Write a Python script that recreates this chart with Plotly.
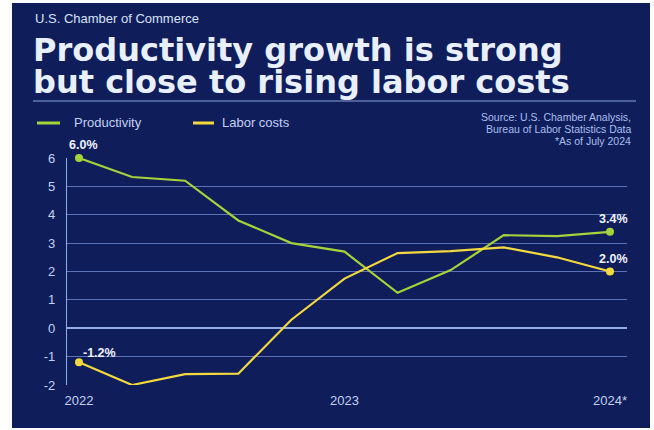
import plotly.graph_objects as go

# ---- data ----
periods = list(range(11))
productivity = [6.0, 5.33, 5.2, 3.8, 3.0, 2.7, 1.25, 2.05, 3.28, 3.25, 3.4]
labor_costs = [-1.2, -2.0, -1.62, -1.6, 0.3, 1.75, 2.65, 2.72, 2.85, 2.5, 2.0]
tick_pos = [0, 5, 10]
tick_labels = ["2022", "2023", "2024*"]
y_ticks = [-2, -1, 0, 1, 2, 3, 4, 5, 6]
y_tick_labels = ["-2", "-1", "0", "1", "2", "3", "4", "5", "6"]

W, H = 654, 430
L, R, T, B = 67, 627, 158, 385  # plot area in pixels

NAVY = "#0f1e5b"
GREEN = "#a6d23a"
YELLOW = "#f4d93e"
GRID = "#5b73b6"
LIGHT = "#c3d1f2"


def px(x):
    return (x - L) / (R - L)


def py(y):
    return (B - y) / (B - T)


fig = go.Figure()
fig.add_trace(go.Scatter(x=periods, y=productivity, mode="lines", name="Productivity",
                         line=dict(color=GREEN, width=2.2), cliponaxis=False))
fig.add_trace(go.Scatter(x=periods, y=labor_costs, mode="lines", name="Labor costs",
                         line=dict(color=YELLOW, width=2.2), cliponaxis=False))
# end markers
for series, col in ((productivity, GREEN), (labor_costs, YELLOW)):
    fig.add_trace(go.Scatter(x=[periods[0], periods[-1]], y=[series[0], series[-1]], mode="markers",
                             marker=dict(color=col, size=8), showlegend=False, cliponaxis=False,
                             hoverinfo="skip"))

shapes = [
    # navy panel
    dict(type="rect", xref="paper", yref="paper", x0=px(12), x1=px(650), y0=py(428), y1=py(3),
         fillcolor=NAVY, line=dict(width=0), layer="below"),
    # header rule
    dict(type="line", xref="paper", yref="paper", x0=px(33), x1=px(636), y0=py(101), y1=py(101),
         line=dict(color="#8aa3dd", width=1)),
    # legend swatches
    dict(type="line", xref="paper", yref="paper", x0=px(37), x1=px(60), y0=py(123), y1=py(123),
         line=dict(color=GREEN, width=3)),
    dict(type="line", xref="paper", yref="paper", x0=px(193), x1=px(214), y0=py(123), y1=py(123),
         line=dict(color=YELLOW, width=3)),
]

TXT = "Liberation Sans, Arial, sans-serif"
TITLE = dict(family="DejaVu Sans, sans-serif", size=32, color="#e8efff", weight="bold")
annotations = [
    dict(text="U.S. Chamber of Commerce", x=px(33), y=py(19), xanchor="left", yanchor="middle",
         font=dict(family=TXT, size=13, color="#d9e3f8")),
    dict(text="Productivity growth is strong", x=px(31), y=py(50), xanchor="left", yanchor="middle",
         font=TITLE),
    dict(text="but close to rising labor costs", x=px(31), y=py(82), xanchor="left", yanchor="middle",
         font=TITLE),
    dict(text="Productivity", x=px(72), y=py(123), xanchor="left", yanchor="middle",
         font=dict(family=TXT, size=13, color=LIGHT)),
    dict(text="Labor costs", x=px(220), y=py(123), xanchor="left", yanchor="middle",
         font=dict(family=TXT, size=13, color=LIGHT)),
    dict(text="Source: U.S. Chamber Analysis,", x=px(633), y=py(117), xanchor="right", yanchor="middle",
         font=dict(family=TXT, size=10.5, color="#a9bfee")),
    dict(text="Bureau of Labor Statistics Data", x=px(633), y=py(129), xanchor="right", yanchor="middle",
         font=dict(family=TXT, size=10.5, color="#a9bfee")),
    dict(text="*As of July 2024", x=px(633), y=py(141), xanchor="right", yanchor="middle",
         font=dict(family=TXT, size=10.5, color="#a9bfee")),
]

LBL = dict(family=TXT, size=12.5, color="#eef3ff", weight="bold")
annotations += [
    dict(text=f"{productivity[0]:.1f}%", x=periods[0], y=productivity[0], xref="x", yref="y",
         xanchor="left", yanchor="bottom", xshift=-12, yshift=4, font=LBL),
    dict(text=f"{labor_costs[0]:.1f}%", x=periods[0], y=labor_costs[0], xref="x", yref="y",
         xanchor="left", yanchor="bottom", xshift=2, yshift=0, font=LBL),
    dict(text=f"{productivity[-1]:.1f}%", x=periods[-1], y=productivity[-1], xref="x", yref="y",
         xanchor="center", yanchor="bottom", xshift=3, yshift=4, font=LBL),
    dict(text=f"{labor_costs[-1]:.1f}%", x=periods[-1], y=labor_costs[-1], xref="x", yref="y",
         xanchor="center", yanchor="bottom", xshift=3, yshift=4, font=LBL),
]
for a in annotations:
    a.setdefault("xref", "paper")
    a.setdefault("yref", "paper")
    a["showarrow"] = False

fig.update_layout(
    width=W, height=H,
    margin=dict(l=L, r=W - R, t=T, b=H - B, pad=0),
    paper_bgcolor="white",
    plot_bgcolor="rgba(0,0,0,0)",
    showlegend=False,
    shapes=shapes,
    annotations=annotations,
    xaxis=dict(range=[-0.226, 10.32], tickvals=tick_pos, ticktext=tick_labels, showgrid=False,
               zeroline=False, showline=False, ticks="", ticklabelstandoff=6,
               tickfont=dict(family=TXT, size=13, color=LIGHT), fixedrange=True),
    yaxis=dict(range=[-2, 6], tickvals=y_ticks, ticktext=y_tick_labels, showgrid=True,
               gridcolor=GRID, gridwidth=1, zeroline=True, zerolinecolor="#93abe6", zerolinewidth=1.6,
               showline=True, linecolor="#93abe6", linewidth=1.4, ticks="", ticklabelstandoff=8,
               tickfont=dict(family=TXT, size=13, color=LIGHT), fixedrange=True),
)

fig.write_html("out.html")
